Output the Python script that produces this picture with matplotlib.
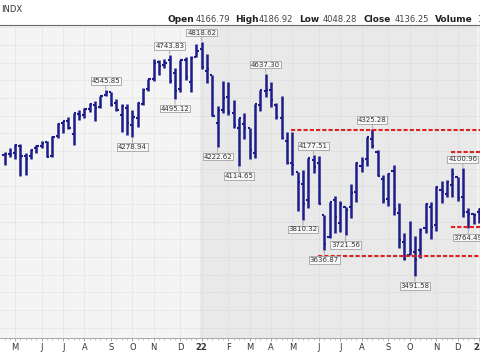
import matplotlib
matplotlib.use('Agg')
import matplotlib.pyplot as plt
import numpy as np
import pandas as pd

# weekly bars, dated by the Monday of each week
weeks = pd.date_range('2021-04-19', periods=90, freq='W-MON')

opens = [4179, 4185, 4191, 4228, 4169, 4170, 4217, 4229, 4249, 4173,
         4285, 4356, 4372, 4296, 4409, 4406, 4437, 4461, 4450, 4514,
         4535, 4474, 4403, 4442, 4348, 4385, 4463, 4553, 4610, 4701,
         4689, 4712, 4640, 4548, 4713, 4588, 4733, 4778, 4655, 4632,
         4357, 4431, 4505, 4413, 4332, 4354, 4328, 4189, 4462, 4541,
         4547, 4462, 4386, 4255, 4131, 4081, 4013, 3920, 4151, 4134,
         3838, 3715, 3921, 3792, 3880, 3883, 3965, 4112, 4156, 4270,
         4195, 4041, 3930, 4084, 3849, 3682, 3610, 3630, 3638, 3765,
         3881, 3780, 3978, 3956, 4006, 4053, 3939, 3853, 3843, 3853]
highs = [4195, 4218, 4238, 4237, 4188, 4213, 4234, 4255, 4257, 4286,
         4356, 4372, 4393, 4415, 4429, 4442, 4470, 4481, 4513, 4545.85,
         4536, 4492, 4466, 4466, 4429, 4475, 4559, 4608, 4718, 4714,
         4718, 4743.83, 4672, 4713, 4731, 4740, 4808, 4818.62, 4749, 4632,
         4453, 4595, 4590, 4490, 4385, 4416, 4328, 4466, 4546, 4637.30,
         4593, 4471, 4513, 4309, 4308, 4081, 4090, 4158, 4177.51, 4169,
         3838, 3912, 3946, 3919, 3880, 4013, 4140, 4167, 4280, 4325.28,
         4204, 4062, 4077, 4119, 3907, 3733, 3806, 3718, 3762, 3906,
         3911, 4000, 4028, 4034, 4100.51, 4053, 4100.96, 3878, 3846, 3878]
lows = [4118, 4165, 4157, 4056, 4061, 4155, 4187, 4217, 4165, 4165,
        4271, 4300, 4322, 4233, 4374, 4386, 4422, 4367, 4441, 4513,
        4457, 4428, 4306, 4288, 4278.94, 4338, 4460, 4537, 4595, 4630,
        4672, 4585, 4495.12, 4532, 4600, 4531, 4733, 4662, 4582, 4396,
        4222.62, 4414, 4401, 4328, 4114.65, 4267, 4157, 4162, 4425, 4504,
        4450, 4381, 4267, 4124, 4062, 3859, 3810.32, 3875, 4074, 3901,
        3636.87, 3705, 3738, 3742, 3721.56, 3819, 3913, 4080, 4115, 4218,
        4057, 3906, 3887, 3838, 3648, 3584, 3610, 3491.58, 3591, 3735,
        3699, 3746, 3906, 3940, 3940, 3919, 3828, 3764.49, 3784, 3794]
closes = [4180, 4181, 4232, 4173, 4156, 4204, 4230, 4247, 4166, 4281,
          4352, 4370, 4327, 4412, 4395, 4437, 4468, 4442, 4509, 4535,
          4458, 4433, 4455, 4357, 4391, 4471, 4545, 4605, 4697, 4683,
          4698, 4595, 4538, 4712, 4620, 4726, 4766, 4677, 4663, 4398,
          4432, 4501, 4419, 4349, 4385, 4329, 4204, 4463, 4543, 4546,
          4488, 4393, 4272, 4132, 4123, 4024, 3901, 4158, 4109, 3901,
          3675, 3912, 3825, 3899, 3863, 3962, 4130, 4145, 4280, 4228,
          4058, 3924, 4067, 3873, 3693, 3586, 3640, 3583, 3753, 3901,
          3771, 3993, 3965, 4026, 4072, 3934, 3852, 3845, 3840, 3870]

callout_highs = [4545.85, 4743.83, 4818.62, 4637.30, 4177.51, 4325.28, 4100.96]
callout_lows = [4278.94, 4495.12, 4222.62, 4114.65, 3810.32, 3636.87,
                3721.56, 3491.58, 3764.49]

# red dashed support / resistance lines
level_values = [4318, 3605, 4196, 3771]
level_from = ['2022-05-02', '2022-06-06', '2022-11-28', '2022-11-28']

header_names = ['Open', 'High', 'Low', 'Close', 'Volume']
header_values = ['4166.79', '4186.92', '4048.28', '4136.25', '1']

W, H = 480, 352
fig = plt.figure(figsize=(W / 100, H / 100), dpi=100)
fig.patch.set_facecolor('white')


def px(x, y):
    return x / W, 1 - y / H


ax = fig.add_axes([0, (H - 338) / H, 1, 313 / H])
x = np.arange(len(weeks))
step = 5.33
x0 = -4.5 / step
ax.set_xlim(x0, x0 + W / step)
ax.set_ylim(3140.8, 4913)

# backgrounds, one shade per year
ax.set_facecolor('#f4f4f4')
month_pos = [i for i in range(len(weeks)) if i == 0 or weeks[i].month != weeks[i - 1].month]
month_pos = month_pos[1:]
year_pos = [i for i in month_pos if weeks[i].month == 1]
ax.axvspan(year_pos[0] - 0.3, year_pos[1] - 0.3, color='#e9e9e9', zorder=0, lw=0)

ax.set_yticks(np.arange(3200, 4901, 100))
ax.set_xticks(month_pos)
labels = [str(weeks[i].year)[2:] if weeks[i].month == 1 else weeks[i].strftime('%b')[0]
          for i in month_pos]
ax.set_xticklabels(labels, fontsize=6, color='#333333')
for t, i in zip(ax.get_xticklabels(), month_pos):
    if weeks[i].month == 1:
        t.set_fontweight('bold')
ax.set_xticks(x, minor=True)
ax.tick_params(axis='x', which='major', length=2, width=0.6, color='#999999', pad=1.5)
ax.tick_params(axis='x', which='minor', length=1.5, width=0.5, color='#aaaaaa')
ax.tick_params(axis='y', left=False, labelleft=False)
ax.grid(True, color='#d2d2d2', linestyle=(0, (1, 1.5)), lw=0.6)
ax.set_axisbelow(True)
for s in ['left', 'right']:
    ax.spines[s].set_visible(False)
ax.spines['top'].set_color('#666666')
ax.spines['top'].set_linewidth(0.8)
ax.spines['bottom'].set_color('#999999')
ax.spines['bottom'].set_linewidth(0.6)

# OHLC bars
navy = '#1c1c8a'
tick = 0.4
ax.vlines(x, lows, highs, color=navy, lw=1.8, zorder=3)
ax.hlines(opens, x - tick, x, color=navy, lw=1.5, zorder=3)
ax.hlines(closes, x, x + tick, color=navy, lw=1.5, zorder=3)

for v, d in zip(level_values, level_from):
    i = weeks.get_loc(pd.Timestamp(d))
    ax.hlines(v, i - 0.25, x0 + W / step + 1, color='#dd2222', lw=1.5,
              linestyle=(0, (2, 1)), zorder=4)

box = dict(boxstyle='square,pad=0.12', fc='#f8f8f8', ec='#a0a0a0', lw=0.6)
arrow = dict(arrowstyle='-', color='#a0a0a0', lw=0.6, shrinkA=0, shrinkB=0.5)
for v in callout_highs:
    i = highs.index(v)
    ax.annotate(f'{v:.2f}', xy=(i, v), xytext=(0, 6.5), textcoords='offset points',
                ha='center', va='center', fontsize=5, color='#333333',
                bbox=box, arrowprops=arrow, zorder=5)
for v in callout_lows:
    i = lows.index(v)
    ax.annotate(f'{v:.2f}', xy=(i, v), xytext=(0, -7), textcoords='offset points',
                ha='center', va='center', fontsize=5, color='#333333',
                bbox=box, arrowprops=arrow, zorder=5)

# header texts
fig.text(*px(1, 10), 'INDX', fontsize=6, color='#333333', va='center', ha='left')
name_x = [167, 235, 299, 363, 435]
value_x = [196, 259, 323, 395, 477]
for n, v, nx, vx in zip(header_names, header_values, name_x, value_x):
    fig.text(*px(nx, 20), n, fontsize=6.5, fontweight='bold', color='#222222',
             va='center', ha='left')
    fig.text(*px(vx, 20), v, fontsize=6, color='#444444', va='center', ha='left')

fig.savefig('out.png', dpi=100)
